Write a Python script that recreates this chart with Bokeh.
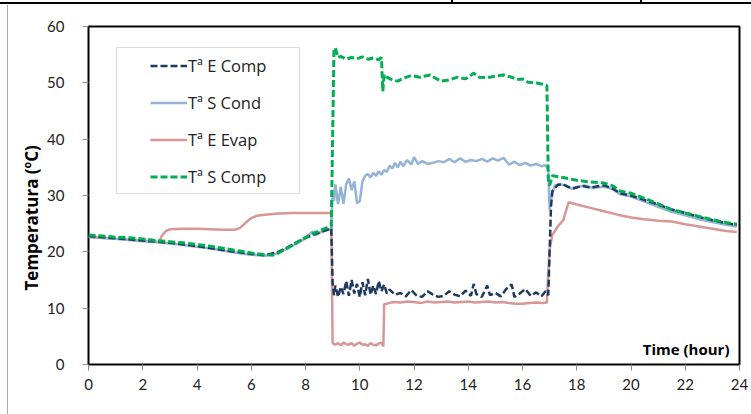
from bokeh.plotting import figure
from bokeh.models import Legend, LegendItem, BoxAnnotation, Label, FixedTicker, InlineStyleSheet, Title
from bokeh.embed import file_html
from bokeh.resources import INLINE

# ---------------- data ----------------
t_evap = [0, 1, 2, 2.6, 2.7, 2.85, 3.0, 3.5, 4, 4.5, 5, 5.4, 5.6, 5.8, 6.0, 6.2, 6.5, 7, 7.5, 8, 8.5, 8.95,
          9.0, 9.1, 9.2, 9.3, 9.4, 9.5, 9.6, 9.7, 9.8, 9.9, 10.0, 10.1, 10.2, 10.3, 10.4, 10.5, 10.6, 10.7, 10.8, 10.87,
          10.9, 11.0, 11.25, 11.5, 11.75, 12.0, 12.25, 12.5, 12.75, 13.0, 13.25, 13.5, 13.75, 14.0, 14.25, 14.5,
          14.75, 15.0, 15.25, 15.5, 15.75, 16.0, 16.25, 16.5, 16.75, 16.9,
          16.95, 17.0, 17.1, 17.3, 17.5, 17.7, 18.0, 18.5, 19.0, 19.5, 20.0, 20.5, 21.0, 21.5, 22.0, 22.5, 23.0, 23.5, 23.9]
evap = [22.6, 22.3, 22.0, 21.8, 22.8, 23.7, 24.0, 24.1, 24.1, 24.0, 23.9, 23.9, 24.3, 25.2, 26.0, 26.4, 26.6, 26.8, 26.9, 26.9, 26.9, 26.9,
        3.8, 3.5, 3.8, 3.4, 3.9, 3.6, 3.5, 3.8, 3.3, 3.7, 3.9, 3.5, 3.6, 3.3, 3.8, 3.5, 3.4, 3.7, 3.9, 3.2,
        10.7, 10.8, 11.1, 11.0, 11.2, 11.1, 10.9, 11.2, 11.0, 11.1, 11.2, 11.0, 11.1, 11.2, 11.0, 11.1,
        11.2, 11.0, 11.1, 10.9, 10.8, 10.8, 10.9, 11.0, 10.9, 11.0,
        16.0, 20.5, 23.0, 24.5, 25.6, 28.8, 28.4, 27.8, 27.2, 26.6, 26.1, 25.8, 25.5, 25.4, 24.9, 24.5, 24.1, 23.7, 23.5]

t_cond = [0, 0.5, 1, 1.5, 2, 2.5, 3, 3.5, 4, 4.5, 5, 5.5, 6, 6.5, 7, 7.5, 8, 8.25, 8.4, 8.6, 8.95,
          9.0, 9.05, 9.1, 9.2, 9.3, 9.4, 9.5, 9.6, 9.7, 9.8, 9.9, 10.0, 10.1, 10.2, 10.3, 10.4, 10.5, 10.6, 10.7,
          10.8, 10.9, 11.0, 11.1, 11.2, 11.3, 11.4, 11.5, 11.6, 11.75, 11.9, 12.0, 12.15, 12.3, 12.5, 12.7, 12.9,
          13.1, 13.3, 13.5, 13.7, 13.9, 14.1, 14.3, 14.5, 14.7, 14.9, 15.1, 15.3, 15.5, 15.7, 15.9, 16.1, 16.3,
          16.5, 16.7, 16.85, 16.95, 17.0, 17.1, 17.2, 17.4, 17.6, 17.8, 18.0, 18.3, 18.6, 19.0, 19.3, 19.6, 20.0,
          20.5, 21.0, 21.5, 22.0, 22.5, 23.0, 23.5, 23.9]
cond = [22.7, 22.5, 22.3, 22.1, 21.9, 21.7, 21.5, 21.2, 20.9, 20.6, 20.2, 19.8, 19.5, 19.3, 19.8, 21.0, 22.4, 23.6, 23.0, 23.6, 24.0,
        31.0, 29.0, 32.0, 28.5, 31.5, 28.5, 32.0, 33.0, 31.0, 32.5, 28.6, 29.0, 32.5, 33.5, 33.8, 33.2, 34.0, 33.5, 34.3,
        33.7, 34.5, 34.2, 35.3, 34.8, 35.8, 35.0, 36.0, 35.2, 36.3, 35.5, 36.8, 35.6, 36.1, 35.6, 35.8, 36.1,
        35.9, 36.5, 35.9, 36.6, 36.0, 36.3, 36.1, 36.5, 36.0, 36.6, 36.2, 36.7, 35.5, 36.0, 35.4, 35.8, 35.3,
        35.6, 35.2, 35.4, 34.6, 27.5, 30.5, 31.8, 32.0, 31.7, 31.2, 31.5, 31.8, 31.3, 31.6, 31.2, 30.2, 29.8,
        28.9, 28.0, 27.1, 26.5, 25.8, 25.3, 24.8, 24.5]

t_ecomp = [0, 1, 2, 3, 4, 5, 6, 6.5, 7, 7.5, 8, 8.5, 8.9, 8.95,
           9.0, 9.05, 9.1, 9.2, 9.3, 9.4, 9.5, 9.6, 9.7, 9.8, 9.9, 10.0, 10.1, 10.2, 10.3, 10.4, 10.5, 10.6, 10.7,
           10.8, 10.9, 11.0, 11.1, 11.3, 11.5, 11.7, 11.9, 12.1, 12.3, 12.5, 12.7, 12.9, 13.1, 13.3, 13.5, 13.7,
           13.9, 14.1, 14.2, 14.3, 14.5, 14.7, 14.8, 15.0, 15.2, 15.4, 15.6, 15.7, 15.9, 16.1, 16.3, 16.5, 16.7,
           16.85, 16.95, 17.0, 17.05, 17.1, 17.3, 17.5, 17.7, 17.9, 18.2, 18.5, 19.0, 19.3, 19.6, 20.0, 20.5, 21.0,
           21.5, 22.0, 22.5, 23.0, 23.5, 23.9]
ecomp = [22.8, 22.4, 22.0, 21.6, 21.0, 20.3, 19.6, 19.4, 20.0, 21.2, 22.5, 23.4, 24.1, 24.2,
         14.5, 12.3, 14.0, 12.0, 13.8, 12.5, 14.8, 12.2, 15.0, 12.6, 14.3, 12.0, 14.6, 12.3, 15.2, 12.4, 14.0, 12.5, 14.8,
         13.0, 14.2, 12.6, 13.3, 12.4, 12.7, 12.1, 13.2, 12.2, 12.0, 13.0, 12.4, 12.0, 12.2, 13.0, 12.4, 12.1,
         13.1, 12.2, 14.3, 12.5, 12.0, 14.0, 12.3, 12.7, 12.1, 13.4, 14.2, 12.0, 12.6, 13.4, 12.2, 12.8, 12.1,
         13.0, 12.3, 20.0, 28.0, 30.8, 31.9, 32.0, 31.5, 31.3, 31.7, 31.4, 31.8, 31.3, 30.4, 30.0, 29.2, 28.4,
         27.5, 26.9, 26.2, 25.6, 25.1, 24.8]

t_scomp = [0, 0.5, 1, 1.5, 2, 2.5, 3, 3.5, 4, 4.5, 5, 5.5, 6, 6.5, 6.8, 7.0, 7.3, 7.8, 8.3, 8.8, 8.95,
           9.05, 9.1, 9.2, 9.3, 9.5, 9.7, 9.9, 10.1, 10.3, 10.5, 10.7, 10.8, 10.85, 10.9, 11.0, 11.2, 11.4, 11.6,
           11.9, 12.2, 12.6, 12.8, 13.0, 13.3, 13.6, 13.9, 14.2, 14.4, 14.7, 15.0, 15.3, 15.6, 15.8, 16.0, 16.2,
           16.5, 16.7, 16.9, 16.95, 17.0, 17.1, 17.5, 18.0, 18.5, 19.0, 19.3, 19.6, 20.0, 20.5, 21.0, 21.5, 22.0,
           22.5, 23.0, 23.5, 23.9]
scomp = [23.0, 22.8, 22.6, 22.5, 22.3, 22.0, 21.8, 21.6, 21.3, 21.0, 20.6, 20.2, 19.8, 19.5, 19.4, 19.8, 20.6, 22.0, 23.3, 24.3, 24.6,
         56.0, 56.2, 54.5, 54.7, 54.2, 54.5, 54.3, 54.6, 54.2, 54.4, 54.1, 54.5, 48.5, 51.5, 51.0, 50.5, 50.3, 50.8,
         51.3, 51.0, 51.4, 50.8, 50.3, 50.5, 51.0, 50.7, 51.7, 51.0, 50.9, 51.2, 51.4, 51.0, 50.6, 50.7, 50.1,
         50.0, 49.8, 49.5, 33.0, 31.8, 33.5, 33.2, 32.7, 32.4, 32.2, 31.8, 30.8, 30.4, 29.5, 28.5, 27.5, 26.9,
         26.3, 25.7, 25.2, 24.9]

series_names = ["Tª E Comp", "Tª S Cond", "Tª E Evap", "Tª S Comp"]
x_ticks = [0, 2, 4, 6, 8, 10, 12, 14, 16, 18, 20, 22, 24]
y_ticks = [0, 10, 20, 30, 40, 50, 60]
y_title = "Temperatura (ºC)"
x_title = "Time (hour)"

TICK_FONT = "Lato"
TEXT_FONT = "Open Sans"

p = figure(width=751, height=414, x_range=(0, 24), y_range=(0, 60),
           min_border_left=88, min_border_right=12, min_border_top=26, min_border_bottom=50,
           output_backend="svg", toolbar_location=None)
p.xgrid.visible = False
p.ygrid.visible = False
p.outline_line_color = "black"
p.outline_line_width = 2
p.background_fill_color = "white"
p.border_fill_color = "white"

for ax in (p.xaxis[0], p.yaxis[0]):
    ax.axis_line_color = None
    ax.major_tick_line_color = "#8c8c8c"
    ax.major_tick_out = 6
    ax.major_tick_in = 0
    ax.minor_tick_line_color = None
    ax.major_label_text_font = TICK_FONT
    ax.major_label_text_font_size = "15px"
    ax.major_label_text_color = "#222222"

p.xaxis.ticker = FixedTicker(ticks=x_ticks)
p.yaxis.ticker = FixedTicker(ticks=y_ticks)
p.xaxis.major_label_standoff = 8
p.yaxis.major_label_standoff = 18

# y title as a side title so it can sit a little below the frame centre, like the reference
p.add_layout(Title(text=y_title, align="left", offset=74, text_font=TEXT_FONT, text_font_size="17px",
                   text_font_style="bold", text_color="black", standoff=4), "left")

r_pink = p.line(t_evap, evap, line_color="#D99694", line_width=2.5)
r_blue = p.line(t_cond, cond, line_color="#95B3D7", line_width=2.5)
r_navy = p.line(t_ecomp, ecomp, line_color="#1F3A60", line_width=2.5, line_dash="7 3")
r_green = p.line(t_scomp, scomp, line_color="#00B050", line_width=3, line_dash="7 3")

# legend frame
box = BoxAnnotation(left=28, right=211, bottom=171, top=317,
                    left_units="screen", right_units="screen", bottom_units="screen", top_units="screen",
                    fill_color="white", fill_alpha=1, line_color="#8c8c8c", line_width=1, level="overlay")
p.add_layout(box)

legend = Legend(items=[LegendItem(label=series_names[0], renderers=[r_navy]),
                       LegendItem(label=series_names[1], renderers=[r_blue]),
                       LegendItem(label=series_names[2], renderers=[r_pink]),
                       LegendItem(label=series_names[3], renderers=[r_green])],
                location=(62, 176), padding=0, spacing=14, glyph_width=37, glyph_height=23,
                label_height=23, label_standoff=1, border_line_color=None,
                background_fill_alpha=0, label_text_font=TEXT_FONT, label_text_font_size="16.5px",
                label_text_color="#222222")
p.add_layout(legend)

p.add_layout(Label(x=641, y=16, x_units="screen", y_units="screen", text=x_title,
                   text_align="right", text_baseline="middle", text_font=TEXT_FONT,
                   text_font_size="15px", text_font_style="bold", text_color="black"))

# page artefacts around the chart (lines of the document table it sits in)
css = """
:host { position: relative; }
:host::before {
  content: ""; position: absolute; left: 0; top: 0; width: 751px; height: 4px; z-index: 20; pointer-events: none;
  background:
    linear-gradient(#000, #000) 0 2px / 751px 2px no-repeat,
    linear-gradient(#000, #000) 451px 0 / 2px 3px no-repeat,
    linear-gradient(#000, #000) 640px 0 / 2px 3px no-repeat;
}
:host::after {
  content: ""; position: absolute; left: 7px; top: 5px; width: 1px; height: 409px; z-index: 20;
  pointer-events: none; background: #a6a6a6;
}
"""
p.stylesheets = [InlineStyleSheet(css=css)]

open("out.html", "w").write(file_html(p, INLINE))
